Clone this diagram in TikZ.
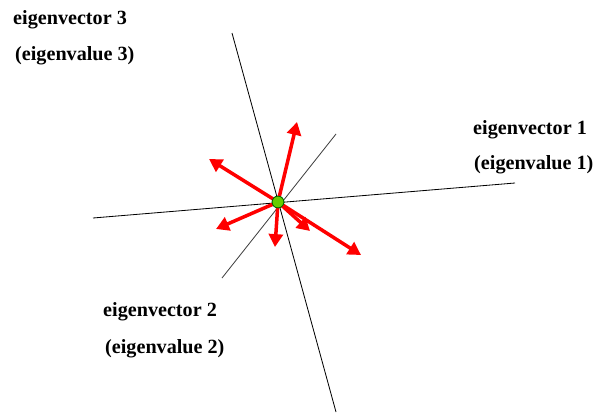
\documentclass[tikz,border=0pt]{standalone}
\usepackage{fontspec}
\setmainfont{Liberation Serif}
\usetikzlibrary{arrows.meta,positioning}

\begin{document}
\begin{tikzpicture}[x=0.03cm, y=-0.03cm,
  axis/.style={draw=black, line width=0.7pt},
  vec/.style={draw=red, line width=3pt, -{Triangle[length=11pt, width=12pt]}},
  origin/.style={circle, draw=black!60!green, fill=green!50!yellow!80!black, line width=0.7pt,
                 minimum size=10pt, inner sep=0pt},
  lbl/.style={anchor=west, inner sep=0pt, font=\fontsize{17.2}{20}\selectfont\bfseries}
]
  \useasboundingbox (0,0) rectangle (595,418);

  % axes
  \coordinate (e1a) at (93,218);
  \coordinate (e1b) at (515,183);
  \coordinate (e2a) at (222,278);
  \coordinate (e2b) at (336,134);
  \coordinate (e3a) at (232,33);
  \coordinate (e3b) at (336,412);
  \draw[axis] (e1a) -- (e1b);
  \draw[axis, draw=black!75] (e2a) -- (e2b);
  \draw[axis] (e3a) -- (e3b);

  % data points around the mean
  \node[origin] (c) at (278,202) {};
  \coordinate (p1) at (297,122);
  \coordinate (p2) at (209,159);
  \coordinate (p3) at (216,229);
  \coordinate (p4) at (275,247);
  \coordinate (p5) at (310,231);
  \coordinate (p6) at (361,255);
  \foreach \p in {p1,p2,p3,p4,p5,p6}
    \draw[vec] (c.center) -- (\p);
  \node[origin] at (c) {};

  % labels
  \node[lbl] (ev3) at (13,20) {eigenvector 3};
  \node[lbl] (ew3) at (15,56) {(eigenvalue 3)};
  \node[lbl] (ev1) at (473,130) {eigenvector 1};
  \node[lbl] (ew1) at (474,165) {(eigenvalue 1)};
  \node[lbl] (ev2) at (103,312) {eigenvector 2};
  \node[lbl] (ew2) at (105,349) {(eigenvalue 2)};
\end{tikzpicture}
\end{document}
